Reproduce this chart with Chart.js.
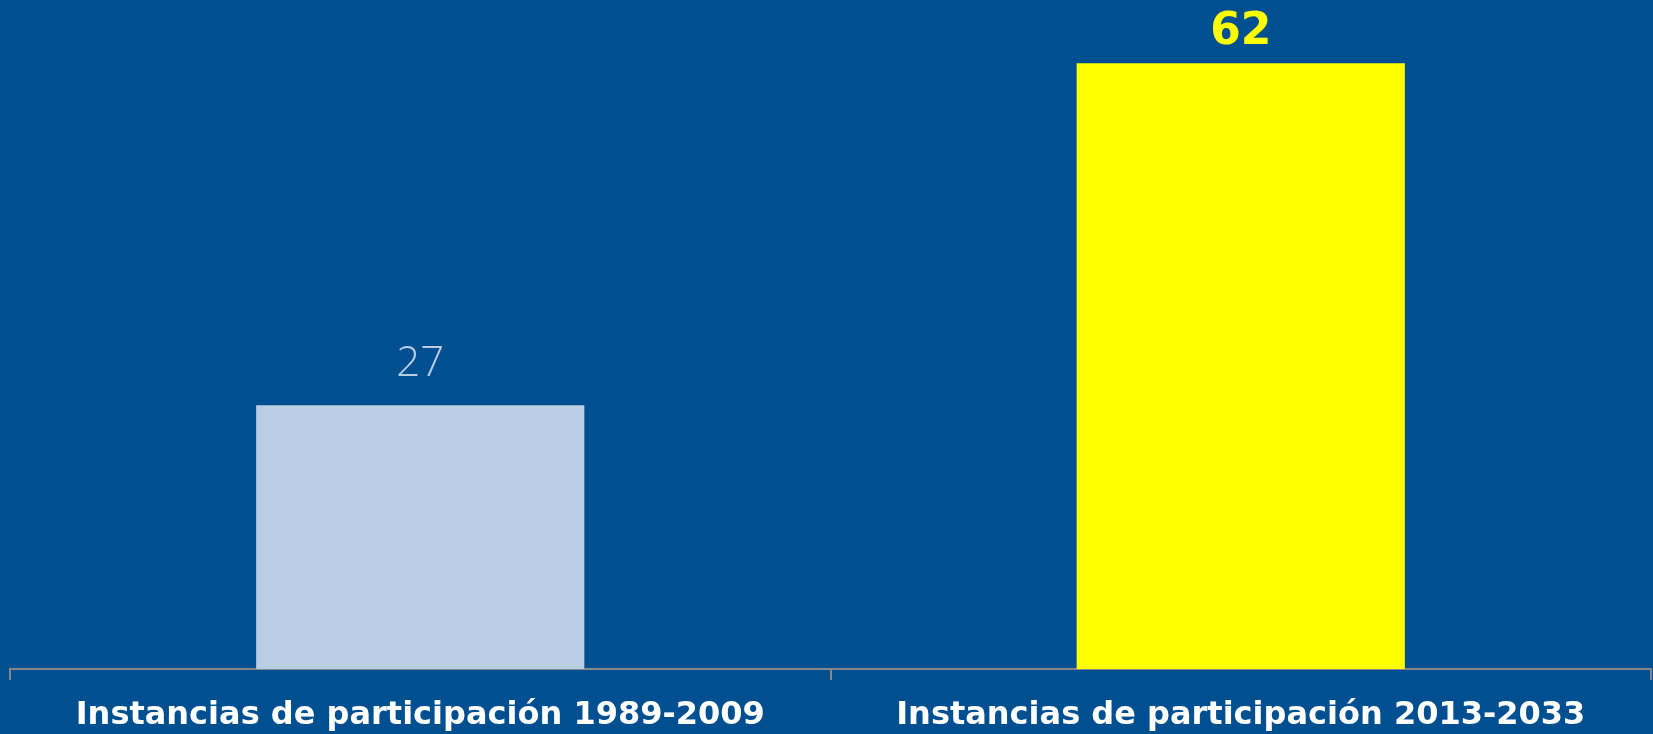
<!DOCTYPE html>
<html>
<head>
<meta charset="utf-8">
<script src="https://cdn.jsdelivr.net/npm/chart.js@4/dist/chart.umd.min.js"></script>
<style>
  html, body { margin: 0; padding: 0; background: #004F91; }
  #wrap { width: 1653px; height: 734px; }
</style>
</head>
<body>
<div id="wrap"><canvas id="chart" width="1653" height="734"></canvas></div>
<script>
// data
const categories = ['Instancias de participación 1989-2009', 'Instancias de participación 2013-2033'];
const values = [27, 62];
const barColors = ['#B9CDE5', '#FFFF00'];

// value labels above each bar (first one thin, second bold yellow)
const valueLabels = {
  id: 'valueLabels',
  afterDatasetsDraw(chart) {
    const ctx = chart.ctx;
    const meta = chart.getDatasetMeta(0);
    ctx.save();
    ctx.textAlign = 'center';
    ctx.textBaseline = 'alphabetic';
    meta.data.forEach(function(bar, i) {
      if (i == 0) {
        ctx.font = '300 42px "Open Sans"';
        ctx.fillStyle = '#B9CDE5';
        ctx.fillText(values[i], bar.x, bar.y - 29);
      } else {
        ctx.font = 'bold 44px "DejaVu Sans"';
        ctx.fillStyle = '#FFFF00';
        ctx.fillText(values[i], bar.x, bar.y - 19);
      }
    });
    ctx.restore();
  }
};

new Chart(document.getElementById('chart'), {
  type: 'bar',
  data: {
    labels: categories,
    datasets: [{
      data: values,
      backgroundColor: barColors,
      borderWidth: 0,
      barPercentage: 0.4,
      categoryPercentage: 1
    }]
  },
  options: {
    responsive: false,
    animation: false,
    layout: { padding: { top: 34, left: 10, right: 2, bottom: 0 } },
    plugins: {
      legend: { display: false },
      tooltip: { enabled: false }
    },
    scales: {
      x: {
        afterFit: function(scale) { scale.height = 65; },
        grid: {
          drawOnChartArea: false,
          color: '#888888',
          lineWidth: 2,
          tickLength: 11
        },
        border: { color: '#888888', width: 2 },
        ticks: {
          color: '#FFFFFF',
          padding: 16,
          font: { family: '"DejaVu Sans"', size: 32, weight: 'bold' }
        }
      },
      y: {
        display: false,
        min: 0,
        max: 65
      }
    }
  },
  plugins: [valueLabels]
});
</script>
</body>
</html>
